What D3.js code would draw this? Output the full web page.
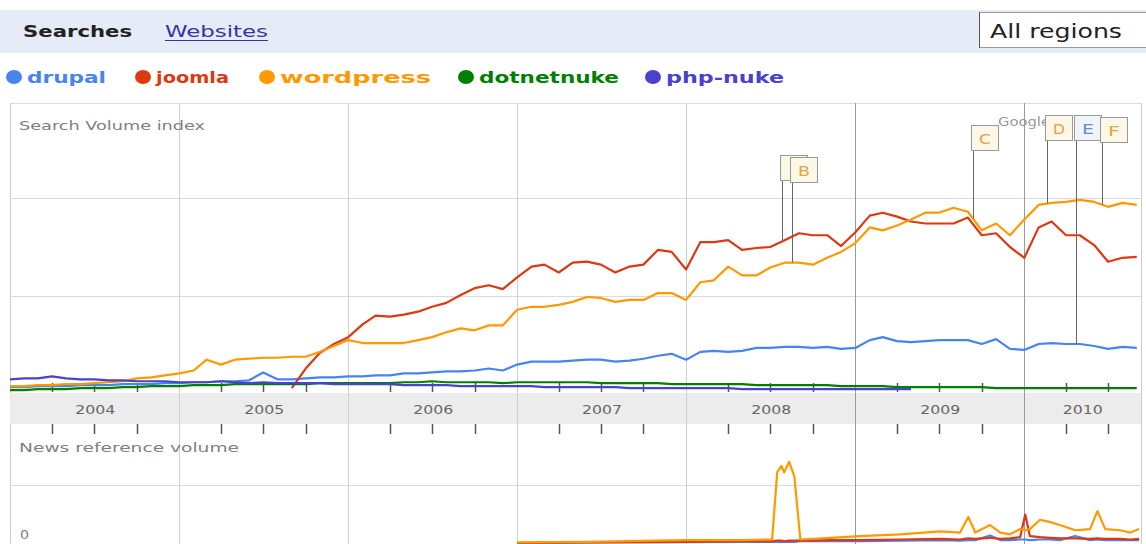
<!DOCTYPE html>
<html>
<head>
<meta charset="utf-8">
<script src="https://cdn.jsdelivr.net/npm/d3@7"></script>
<style>
  body { margin: 0; background: #fff; }
  svg { display: block; font-family: "DejaVu Sans", Verdana, sans-serif; }
</style>
</head>
<body>
<div id="chart"></div>
<script>
// ---- data (monthly search volume index, first value = Jan 2004) ----
const firstMonth = '2004-01-01';

const drupal = [
  0.07,0.07,0.08,0.08,0.08,0.09,0.09,0.09,0.10,0.10,0.10,0.11,
  0.11,0.12,0.12,0.13,0.13,0.14,0.22,0.15,0.15,0.16,0.17,0.17,
  0.18,0.18,0.19,0.19,0.21,0.21,0.22,0.23,0.23,0.24,0.26,0.24,
  0.30,0.33,0.33,0.33,0.34,0.35,0.35,0.33,0.34,0.36,0.39,0.41,
  0.35,0.43,0.44,0.43,0.44,0.47,0.47,0.48,0.48,0.47,0.48,0.46,
  0.47,0.55,0.58,0.54,0.53,0.54,0.55,0.55,0.55,0.51,0.56,0.46,
  0.45,0.51,0.52,0.51,0.51,0.49,0.46,0.48,0.47
];

const joomla = [
  null,null,null,null,null,null,null,null,null,null,null,null,
  null,null,null,null,null,null,null,null,0.06,0.26,0.42,0.51,
  0.58,0.71,0.80,0.79,0.81,0.84,0.89,0.93,1.01,1.08,1.11,1.07,
  1.19,1.30,1.32,1.24,1.34,1.35,1.32,1.24,1.30,1.32,1.47,1.45,
  1.27,1.55,1.55,1.57,1.47,1.49,1.50,1.57,1.64,1.62,1.62,1.51,
  1.65,1.82,1.85,1.81,1.76,1.74,1.74,1.74,1.80,1.62,1.64,1.50,
  1.39,1.70,1.76,1.62,1.62,1.52,1.35,1.39,1.40
];

const wordpress = [
  0.08,0.08,0.09,0.09,0.10,0.10,0.11,0.12,0.13,0.16,0.17,0.19,
  0.21,0.24,0.35,0.30,0.35,0.36,0.37,0.37,0.38,0.38,0.43,0.49,
  0.55,0.52,0.52,0.52,0.52,0.55,0.58,0.63,0.67,0.65,0.70,0.70,
  0.86,0.89,0.89,0.91,0.94,0.99,0.98,0.94,0.96,0.96,1.03,1.03,
  0.96,1.14,1.16,1.30,1.21,1.21,1.29,1.34,1.34,1.32,1.39,1.45,
  1.54,1.70,1.67,1.72,1.78,1.85,1.85,1.90,1.86,1.67,1.74,1.62,
  1.78,1.93,1.95,1.96,1.98,1.96,1.91,1.95,1.93
];

const dotnetnuke = [
  0.04,0.04,0.05,0.05,0.05,0.06,0.06,0.06,0.07,0.07,0.08,0.08,
  0.08,0.09,0.09,0.09,0.10,0.10,0.10,0.10,0.10,0.10,0.11,0.11,
  0.11,0.11,0.11,0.11,0.12,0.12,0.13,0.12,0.12,0.12,0.12,0.11,
  0.12,0.12,0.12,0.12,0.12,0.12,0.11,0.11,0.11,0.11,0.11,0.10,
  0.10,0.10,0.10,0.10,0.10,0.09,0.09,0.09,0.09,0.09,0.09,0.08,
  0.08,0.08,0.08,0.07,0.07,0.07,0.07,0.07,0.07,0.07,0.06,0.06,
  0.06,0.06,0.06,0.06,0.06,0.06,0.06,0.06,0.06
];

const phpnuke = [
  0.15,0.16,0.16,0.18,0.16,0.15,0.15,0.14,0.14,0.13,0.13,0.13,
  0.12,0.12,0.12,0.13,0.12,0.11,0.12,0.11,0.11,0.11,0.11,0.10,
  0.10,0.10,0.10,0.10,0.09,0.09,0.09,0.09,0.08,0.08,0.08,0.08,
  0.08,0.08,0.07,0.07,0.07,0.07,0.07,0.07,0.06,0.06,0.06,0.06,
  0.06,0.06,0.06,0.06,0.05,0.05,0.05,0.05,0.05,0.05,0.05,0.05,
  0.05,0.05,0.05,0.05,0.05,null,null,null,null,null,null,null,
  null,null,null,null,null,null,null,null,null
];

const seriesNames = ['drupal', 'joomla', 'wordpress', 'dotnetnuke', 'php-nuke'];
const seriesColors = ['#4684ee', '#dc3912', '#ff9900', '#008000', '#4942cc'];
const yearLabels = ['2004', '2005', '2006', '2007', '2008', '2009', '2010'];
const lastDay = '2010-09-08';

// news reference volume
const newsDates = [
  '2005-06-01','2006-01-01','2007-01-01','2007-06-01','2008-01-01','2008-05-01',
  '2008-07-05','2008-07-16','2008-07-25','2008-07-31','2008-08-11','2008-08-22',
  '2008-09-04','2008-11-07','2009-01-11','2009-04-08','2009-07-03','2009-08-15',
  '2009-09-02','2009-09-17','2009-10-19','2009-11-10','2009-12-01','2009-12-23',
  '2010-01-03','2010-01-13','2010-02-04','2010-02-26','2010-03-19','2010-04-21',
  '2010-05-23','2010-06-08','2010-06-25','2010-07-27','2010-08-18','2010-09-06'
];
const wordpressNews = [
  null,null,0.01,0.02,0.05,0.05,0.06,1.22,1.33,1.22,1.40,1.15,
  0.06,0.09,0.12,0.15,0.20,0.18,0.45,0.18,0.31,0.18,0.15,0.24,
  0.22,0.24,0.40,0.36,0.31,0.22,0.24,0.55,0.24,0.22,0.18,0.24
];
const joomlaNews = [
  null,null,0.00,0.01,0.02,0.03,0.03,0.04,0.04,0.03,0.04,0.04,
  0.04,0.05,0.05,0.06,0.07,0.06,0.08,0.07,0.09,0.07,0.08,0.10,
  0.49,0.12,0.10,0.09,0.08,0.08,0.07,0.08,0.07,0.07,0.06,0.07
];
const drupalNews = [
  null,null,0.00,0.01,0.02,0.02,0.02,0.02,0.02,0.02,0.02,0.02,
  0.03,0.03,0.03,0.04,0.05,0.04,0.05,0.05,0.13,0.05,0.05,0.06,
  0.06,0.05,0.06,0.06,0.05,0.12,0.05,0.06,0.05,0.05,0.05,0.05
];

// annotation flags
const flagLetters = ['A', 'B', 'C', 'D', 'E', 'F'];
const flagDates = ['2008-07-26', '2008-08-18', '2009-09-12', '2010-02-19', '2010-04-22', '2010-06-18'];
const flagSeries = ['joomla', 'wordpress', 'wordpress', 'wordpress', 'drupal', 'wordpress'];

// ---- drawing ----
const W = 1146, H = 544;
const parse = d3.utcParse('%Y-%m-%d');
const svg = d3.select('#chart').append('svg')
    .attr('width', W)
    .attr('height', H);

const start = parse(firstMonth);
const end = parse(lastDay);
const monthDates = drupal.map((d, i) => d3.utcMonth.offset(start, i));

const left = 10, right = 1141;
const x = d3.scaleUtc().domain([start, end]).range([left, 1140]);
const ySearch = d3.scaleLinear().domain([0, 2]).range([394, 198]);
const yNews = d3.scaleLinear().domain([0, 1]).range([543, 485]);

const valuesByName = {
    'drupal': drupal, 'joomla': joomla, 'wordpress': wordpress,
    'dotnetnuke': dotnetnuke, 'php-nuke': phpnuke
};
const newsByName = { 'drupal': drupalNews, 'joomla': joomlaNews, 'wordpress': wordpressNews };
const colorOf = name => seriesColors[seriesNames.indexOf(name)];

function label(g, txt, px, py, opts) {
    const t = g.append('text')
        .attr('x', px)
        .attr('y', py)
        .attr('font-size', opts.size)
        .attr('font-weight', opts.weight || 'normal')
        .attr('fill', opts.fill || '#222')
        .attr('text-anchor', opts.anchor || 'start')
        .text(txt);
    if (opts.length) {
        t.attr('textLength', opts.length).attr('lengthAdjust', 'spacingAndGlyphs');
    }
    return t;
}

// header band
svg.append('rect')
    .attr('x', 0).attr('y', 10)
    .attr('width', W).attr('height', 43)
    .attr('fill', '#e5ebf7');
label(svg, 'Searches', 23, 37, { size: 16, weight: 'bold', fill: '#222', length: 109 });
label(svg, 'Websites', 165, 37, { size: 16, fill: '#3434a6', length: 103 });
svg.append('line')
    .attr('x1', 165).attr('x2', 268)
    .attr('y1', 40.5).attr('y2', 40.5)
    .attr('stroke', '#3434a6');
svg.append('rect')
    .attr('x', 979.5).attr('y', 12.5)
    .attr('width', 175).attr('height', 35)
    .attr('fill', '#fff')
    .attr('stroke', '#999');
svg.append('line')
    .attr('x1', 979.5).attr('x2', 979.5)
    .attr('y1', 12).attr('y2', 48)
    .attr('stroke', '#555');
label(svg, 'All regions', 990, 38, { size: 20, fill: '#222', length: 132 });

// legend
const legendDotX = [14, 143, 267, 466, 653];
const legendTextLen = [79, 73, 151, 140, 118];
const legend = svg.append('g').attr('class', 'legend');
seriesNames.forEach((name, i) => {
    legend.append('ellipse')
        .attr('cx', legendDotX[i]).attr('cy', 77)
        .attr('rx', 8).attr('ry', 7)
        .attr('fill', seriesColors[i]);
    label(legend, name, legendDotX[i] + 13, 83,
        { size: 16, weight: 'bold', fill: seriesColors[i], length: legendTextLen[i] });
});

// frames and grid
const grid = svg.append('g').attr('class', 'grid');
grid.append('line')
    .attr('x1', left).attr('x2', right)
    .attr('y1', 103.5).attr('y2', 103.5)
    .attr('stroke', '#ddd');
[left, right].forEach(px => {
    grid.append('line')
        .attr('x1', px + 0.5).attr('x2', px + 0.5)
        .attr('y1', 103).attr('y2', H)
        .attr('stroke', '#ccc');
});
ySearch.ticks(2).filter(v => v > 0).forEach(v => {
    grid.append('line')
        .attr('x1', left).attr('x2', right)
        .attr('y1', Math.round(ySearch(v)) + 0.5).attr('y2', Math.round(ySearch(v)) + 0.5)
        .attr('stroke', '#dadada');
});
grid.append('line')
    .attr('x1', left).attr('x2', right)
    .attr('y1', Math.round(yNews(1)) + 0.5).attr('y2', Math.round(yNews(1)) + 0.5)
    .attr('stroke', '#dadada');

// x axis band
svg.append('rect')
    .attr('x', left).attr('y', 393)
    .attr('width', right - left).attr('height', 31)
    .attr('fill', '#ececec');

const yearStarts = d3.utcYear.range(d3.utcYear.offset(start, 1), end);
yearStarts.forEach(d => {
    const late = d.getUTCFullYear() >= 2009;
    svg.append('line')
        .attr('x1', Math.round(x(d)) + 0.5).attr('x2', Math.round(x(d)) + 0.5)
        .attr('y1', 103).attr('y2', H)
        .attr('stroke', late ? '#9a9a9a' : '#cfcfcf');
});

const yearMids = yearLabels.map(yr => {
    const a = parse(`${yr}-01-01`);
    const b = d3.min([parse(`${+yr + 1}-01-01`), end]);
    return new Date((+a + +b) / 2);
});
const yearAxis = svg.append('g')
    .attr('transform', 'translate(0,405)')
    .call(d3.axisBottom(x)
        .tickValues(yearMids)
        .tickFormat((d, i) => yearLabels[i])
        .tickSize(0)
        .tickPadding(0));
yearAxis.select('.domain').remove();
yearAxis.selectAll('text')
    .attr('font-family', '"DejaVu Sans", Verdana, sans-serif')
    .attr('font-size', 13)
    .attr('fill', '#666')
    .attr('textLength', 40)
    .attr('lengthAdjust', 'spacingAndGlyphs');

// quarter ticks (Apr, Jul, Oct)
const quarters = d3.utcMonth.range(start, end).filter(d => d.getUTCMonth() % 3 === 0 && d.getUTCMonth() !== 0);
[[383, 392], [424, 434]].forEach(([y1, y2]) => {
    svg.append('g')
        .attr('class', 'quarter-ticks')
        .selectAll('line')
        .data(quarters)
        .enter()
        .append('line')
        .attr('x1', d => Math.round(x(d)) + 0.5)
        .attr('x2', d => Math.round(x(d)) + 0.5)
        .attr('y1', y1)
        .attr('y2', y2)
        .attr('stroke', '#555')
        .attr('stroke-width', 1.5);
});

// panel titles
label(svg, 'Search Volume index', 19, 130, { size: 13, fill: '#808080', length: 186 });
label(svg, 'News reference volume', 19, 452, { size: 13, fill: '#808080', length: 220 });
label(svg, '0', 20, 539, { size: 12, fill: '#808080', length: 9 });

// clip regions
const defs = svg.append('defs');
defs.append('clipPath').attr('id', 'clip-search')
    .append('rect').attr('x', left).attr('y', 104)
    .attr('width', right - left).attr('height', 289);
defs.append('clipPath').attr('id', 'clip-news')
    .append('rect').attr('x', left).attr('y', 436)
    .attr('width', right - left).attr('height', H - 436);

// search lines
const searchLine = d3.line()
    .defined(d => d.v != null)
    .x(d => x(d.date))
    .y(d => ySearch(d.v));
const searchG = svg.append('g').attr('clip-path', 'url(#clip-search)');
seriesNames.forEach(name => {
    const pts = valuesByName[name].map((v, i) => ({ date: monthDates[i], v: v }));
    searchG.append('path')
        .datum(pts)
        .attr('fill', 'none')
        .attr('stroke', colorOf(name))
        .attr('stroke-width', 2.2)
        .attr('stroke-linejoin', 'round')
        .attr('d', searchLine);
});

// news lines
const newsLine = d3.line()
    .defined(d => d.v != null)
    .x(d => x(d.date))
    .y(d => yNews(d.v));
const newsG = svg.append('g').attr('clip-path', 'url(#clip-news)');
['drupal', 'joomla', 'wordpress'].forEach(name => {
    const pts = newsByName[name].map((v, i) => ({ date: parse(newsDates[i]), v: v }));
    newsG.append('path')
        .datum(pts)
        .attr('fill', 'none')
        .attr('stroke', colorOf(name))
        .attr('stroke-width', 2.2)
        .attr('stroke-linejoin', 'round')
        .attr('d', newsLine);
});

// google watermark (partly hidden by flags)
label(svg, 'Google', 998, 126, { size: 13, fill: '#999', length: 52 });

// flags
function valueAt(values, date) {
    const i = Math.min(d3.bisectRight(monthDates, date) - 1, monthDates.length - 2);
    const t = (date - monthDates[i]) / (monthDates[i + 1] - monthDates[i]);
    return values[i] * (1 - t) + values[i + 1] * t;
}
const flagTop = { A: 155, B: 157, C: 125, D: 115, E: 115, F: 117 };
const flagW = 27, flagH = 25;
const flagG = svg.append('g').attr('class', 'flags');
flagLetters.forEach((letter, i) => {
    const date = parse(flagDates[i]);
    const px = Math.round(x(date)) + 0.5;
    const top = flagTop[letter];
    const endY = ySearch(valueAt(valuesByName[flagSeries[i]], date));
    flagG.append('line')
        .attr('x1', px).attr('x2', px)
        .attr('y1', top + flagH).attr('y2', endY)
        .attr('stroke', '#666');
});
flagLetters.forEach((letter, i) => {
    const date = parse(flagDates[i]);
    const bx = Math.round(x(date)) - 1.5;
    const top = flagTop[letter] + 0.5;
    const isDrupal = flagSeries[i] === 'drupal';
    flagG.append('rect')
        .attr('x', bx).attr('y', top)
        .attr('width', flagW).attr('height', flagH)
        .attr('fill', isDrupal ? '#f1f4fb' : '#fcf8e8')
        .attr('stroke', '#999');
    // a flag whose box is mostly covered by the next one shows no letter
    const next = flagDates[i + 1] ? x(parse(flagDates[i + 1])) - x(date) : Infinity;
    if (next > 20) {
        label(flagG, letter, bx + flagW / 2, top + 18,
            { size: 14, fill: isDrupal ? '#6b8bd0' : '#e8a33c', anchor: 'middle', length: 12 });
    }
});
</script>
</body>
</html>
